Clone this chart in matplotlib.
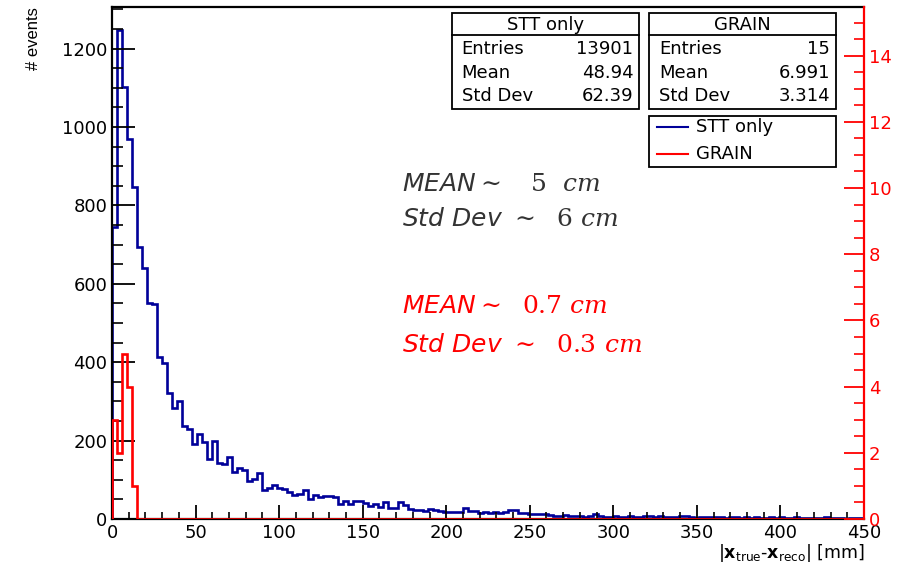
import numpy as np
import matplotlib
matplotlib.use("Agg")
import matplotlib.pyplot as plt
from matplotlib.patches import Rectangle
from matplotlib.lines import Line2D
from matplotlib.ticker import MultipleLocator

# ---- data -------------------------------------------------------------
bin_edges_mm = np.arange(0, 451, 3)          # 150 bins of 3 mm

stt_counts = [
    745, 1247, 1102, 970, 846, 693, 640, 552, 548, 413,
    398, 321, 283, 302, 238, 230, 191, 217, 196, 154,
    200, 143, 140, 158, 121, 130, 124, 98, 101, 118,
    75, 79, 88, 79, 76, 70, 60, 65, 74, 50,
    61, 55, 59, 58, 55, 37, 46, 37, 47, 46,
    42, 32, 38, 30, 44, 29, 28, 44, 36, 26,
    23, 23, 21, 26, 23, 21, 19, 18, 19, 19,
    29, 20, 20, 15, 17, 15, 17, 15, 18, 22,
    22, 15, 15, 13, 13, 13, 12, 9, 8, 8,
    9, 8, 7, 8, 6, 7, 14, 8, 6, 6,
    7, 5, 6, 7, 5, 6, 8, 8, 5, 7,
    4, 6, 5, 8, 8, 5, 3, 5, 5, 4,
    6, 4, 3, 5, 4, 3, 6, 2, 4, 3,
    3, 5, 2, 4, 3, 2, 4, 3, 2, 3,
    2, 3, 4, 2, 3, 2, 1, 2, 3, 2,
]
grain_counts = [3, 2, 5, 4, 1] + [0] * 145

x_ticks = [0, 50, 100, 150, 200, 250, 300, 350, 400, 450]
left_ticks = [0, 200, 400, 600, 800, 1000, 1200]
right_ticks = [0, 2, 4, 6, 8, 10, 12, 14]

stt_stats = [("Entries", "13901"), ("Mean", "48.94"), ("Std Dev", "62.39")]
grain_stats = [("Entries", "15"), ("Mean", "6.991"), ("Std Dev", "3.314")]

# ---- style ------------------------------------------------------------
plt.rcParams["font.family"] = ["DejaVu Sans"]
plt.rcParams["font.size"] = 13
# equation-style notes: italic sans names, serif numbers and units
plt.rcParams["mathtext.fontset"] = "custom"
plt.rcParams["mathtext.it"] = "DejaVu Sans:italic"
plt.rcParams["mathtext.rm"] = "DejaVu Serif"
plt.rcParams["mathtext.sf"] = "DejaVu Serif:italic"

BLUE = "#000099"
RED = "#ff0000"
W, H = 907, 566


def fx(px):
    return px / W


def fy(py):
    return 1 - py / H


fig = plt.figure(figsize=(W / 100, H / 100), dpi=100)
ax = fig.add_axes([fx(112), fy(519), fx(864) - fx(112), fy(7) - fy(519)])
ax2 = ax.twinx()

# histograms
ax.stairs(stt_counts, bin_edges_mm, color=BLUE, lw=1.9, baseline=0)
ax2.stairs(grain_counts, bin_edges_mm, color=RED, lw=1.9, baseline=0)

ax.set_xlim(0, 450)
ax.set_ylim(0, 1306)
ax2.set_ylim(0, 15.47)

ax.set_xticks(x_ticks)
ax.set_yticks(left_ticks)
ax2.set_yticks(right_ticks)
ax.xaxis.set_minor_locator(MultipleLocator(10))
ax.yaxis.set_minor_locator(MultipleLocator(50))
ax2.yaxis.set_minor_locator(MultipleLocator(0.5))

ax.tick_params(axis="x", which="major", direction="in", length=10, width=1.3,
               pad=3.5, labelsize=13, top=False)
ax.tick_params(axis="x", which="minor", direction="in", length=5.3, width=1.2,
               top=False)
ax.tick_params(axis="y", which="major", direction="in", length=16.5, width=1.3,
               pad=3.5, labelsize=13, right=False)
ax.tick_params(axis="y", which="minor", direction="in", length=8, width=1.2,
               right=False)
ax2.tick_params(axis="y", which="major", direction="in", length=14.5, width=1.3,
                pad=3.5, labelsize=13, colors=RED)
ax2.tick_params(axis="y", which="minor", direction="in", length=7, width=1.2,
                colors=RED)

for side in ("left", "top", "bottom"):
    ax.spines[side].set_linewidth(1.6)
ax.spines["right"].set_visible(False)
for side in ("left", "top", "bottom"):
    ax2.spines[side].set_visible(False)
ax2.spines["right"].set_color(RED)
ax2.spines["right"].set_linewidth(1.6)

# axis titles
fig.text(fx(34), fy(7), "# events", rotation=90, ha="center", va="top",
         family="Liberation Sans", fontsize=12)
fig.text(fx(865), fy(553),
         r"$|\mathbf{x}_{\mathrm{true}}$-$\mathbf{x}_{\mathrm{reco}}|$ [mm]",
         ha="right", va="center", fontsize=12.5, math_fontfamily="dejavusans")


# ---- statistics boxes -------------------------------------------------
def stat_box(x0, x1, title, rows):
    y0, ysep, y1 = 13, 35, 109
    fig.patches.append(Rectangle((fx(x0), fy(y1)), fx(x1) - fx(x0), fy(y0) - fy(y1),
                                 transform=fig.transFigure, fill=False,
                                 edgecolor="black", lw=1.3))
    fig.lines.append(Line2D([fx(x0), fx(x1)], [fy(ysep), fy(ysep)],
                            transform=fig.transFigure, color="black", lw=1.3))
    fig.text(fx((x0 + x1) / 2), fy(24.5), title, ha="center", va="center", fontsize=13)
    for i, (name, val) in enumerate(rows):
        yc = 49.5 + i * 23.3
        fig.text(fx(x0 + 10), fy(yc), name, ha="left", va="center", fontsize=13)
        fig.text(fx(x1 - 5.5), fy(yc), val, ha="right", va="center", fontsize=13)


stat_box(451.5, 639, "STT only", stt_stats)
stat_box(649, 835.5, "GRAIN", grain_stats)

# legend
fig.patches.append(Rectangle((fx(649), fy(166.5)), fx(835.5) - fx(649), fy(116) - fy(166.5),
                             transform=fig.transFigure, fill=False,
                             edgecolor="black", lw=1.3))
for yc, col, lab in ((127, BLUE, "STT only"), (154, RED, "GRAIN")):
    fig.lines.append(Line2D([fx(657), fx(688)], [fy(yc), fy(yc)],
                            transform=fig.transFigure, color=col, lw=1.5))
    fig.text(fx(696), fy(yc), lab, ha="left", va="center", fontsize=13)

# ---- resolution notes -------------------------------------------------
notes = [
    (191, r"$MEAN{\sim}\ \ \ 5\ \ \mathsf{cm}$", "#333333"),
    (226, r"$Std\ Dev\ {\sim}\ \ 6\ \mathsf{cm}$", "#333333"),
    (313, r"$MEAN{\sim}\ \ 0.7\ \mathsf{cm}$", RED),
    (352, r"$Std\ Dev\ {\sim}\ \ 0.3\ \mathsf{cm}$", RED),
]
for yb, txt, col in notes:
    fig.text(fx(402), fy(yb), txt, ha="left", va="baseline", color=col,
             fontsize=18, math_fontfamily="custom")

fig.savefig("out.png", dpi=100)
